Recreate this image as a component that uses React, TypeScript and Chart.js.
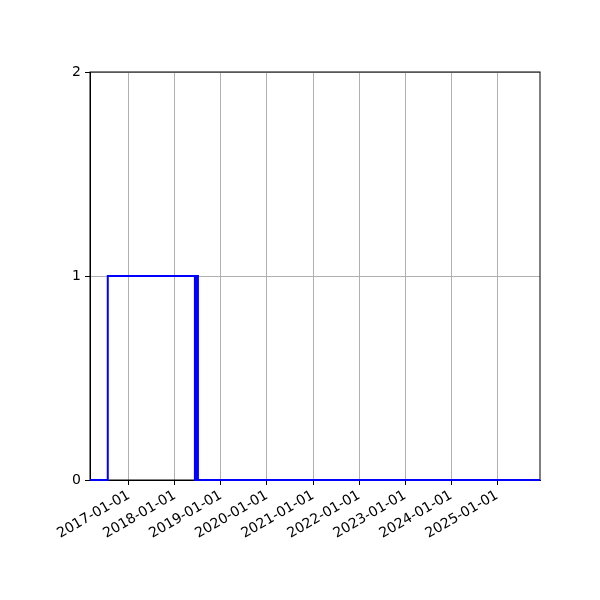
import { useEffect, useRef } from 'react';
import { Chart, registerables } from 'chart.js';

Chart.register(...registerables);

// step data (value holds from each date until the next one)
const dates = [
  '2016-02-28',
  '2016-07-18',
  '2018-06-09',
  '2018-06-13',
  '2018-06-17',
  '2018-06-21',
  '2018-06-25',
  '2018-06-29',
  '2018-07-03',
  '2025-12-06',
];
const values = [0, 1, 0, 1, 0, 1, 0, 1, 0, 0];
const yearTicks = ['2017-01-01', '2018-01-01', '2019-01-01', '2020-01-01', '2021-01-01', '2022-01-01', '2023-01-01', '2024-01-01', '2025-01-01'];
const yTicks = [0, 1, 2];

const ms = (s: string) => Date.parse(s + 'T00:00:00Z');
const fmt = (v: number) => new Date(v).toISOString().slice(0, 10);

const FONT = { family: 'DejaVu Sans', size: 14 };

const frame = {
  id: 'frame',
  beforeDatasetsDraw(chart: Chart) {
    const { ctx, chartArea: a } = chart;
    ctx.save();
    ctx.strokeStyle = '#000';
    ctx.lineWidth = 1;
    ctx.strokeRect(a.left, a.top, a.right - a.left, a.bottom - a.top);
    ctx.restore();
  },
};

export default function App() {
  const canvasRef = useRef<HTMLCanvasElement>(null);

  useEffect(() => {
    document.body.style.margin = '0';
    const canvas = canvasRef.current;
    if (!canvas) return;
    const chart = new Chart(canvas, {
      type: 'line',
      data: {
        datasets: [
          {
            data: dates.map((d, i) => ({ x: ms(d), y: values[i] })),
            borderColor: '#0000ff',
            borderWidth: 2,
            stepped: 'before',
            pointRadius: 0,
            fill: false,
            clip: false,
          },
        ],
      },
      options: {
        animation: false,
        responsive: false,
        devicePixelRatio: 1,
        layout: { padding: { left: 0, top: 72, right: 60, bottom: 0 } },
        plugins: { legend: { display: false }, tooltip: { enabled: false } },
        scales: {
          x: {
            type: 'linear',
            min: ms(dates[0]),
            max: ms(dates[dates.length - 1]),
            afterBuildTicks: (s: any) => {
              s.ticks = yearTicks.map((t) => ({ value: ms(t) }));
            },
            afterFit: (s: any) => {
              s.height = 120;
            },
            grid: { color: '#b0b0b0', lineWidth: 1, tickColor: '#000', tickLength: 5 },
            border: { color: '#000', width: 1 },
            ticks: {
              color: '#000',
              font: FONT,
              padding: 2,
              minRotation: 30,
              maxRotation: 30,
              autoSkip: false,
              callback: (v: any) => fmt(Number(v)),
            },
          },
          y: {
            type: 'linear',
            min: 0,
            max: 2,
            afterBuildTicks: (s: any) => {
              s.ticks = yTicks.map((t) => ({ value: t }));
            },
            afterFit: (s: any) => {
              s.width = 90;
            },
            grid: { color: '#b0b0b0', lineWidth: 1, tickColor: '#000', tickLength: 5 },
            border: { color: '#000', width: 1 },
            ticks: { color: '#000', font: FONT, padding: 4 },
          },
        },
      },
      plugins: [frame],
    });
    return () => chart.destroy();
  }, []);

  return <canvas ref={canvasRef} width={600} height={600} style={{ width: 600, height: 600 }} />;
}
